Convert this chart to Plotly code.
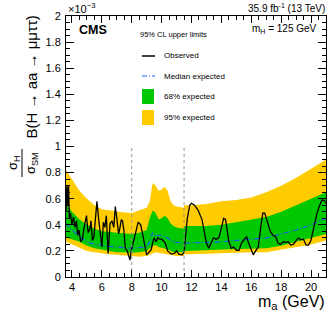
import plotly.graph_objects as go

# ---------------- data (units of 1e-3) ----------------
band_mass = [3.6, 4.0, 4.5, 5.0, 5.5, 6.0, 6.5, 7.0, 7.5, 8.0, 8.5, 9.0, 9.2, 9.4, 9.6, 9.8,
             10.0, 10.2, 10.4, 10.6, 10.8, 11.0, 11.5, 11.5, 12.0, 13.0, 14.0, 15.0, 16.0,
             17.0, 18.0, 19.0, 20.0, 21.0]
exp95_hi = [0.82, 0.75, 0.66, 0.60, 0.55, 0.52, 0.51, 0.50, 0.495, 0.49, 0.51, 0.53, 0.58, 0.72,
            0.70, 0.66, 0.67, 0.69, 0.66, 0.58, 0.55, 0.54, 0.53, 0.55, 0.55, 0.56, 0.58, 0.59,
            0.61, 0.65, 0.70, 0.76, 0.83, 0.90]
exp68_hi = [0.56, 0.50, 0.44, 0.40, 0.37, 0.35, 0.345, 0.34, 0.335, 0.33, 0.34, 0.36, 0.45, 0.51,
            0.49, 0.44, 0.45, 0.47, 0.45, 0.41, 0.39, 0.38, 0.37, 0.39, 0.39, 0.39, 0.40, 0.42,
            0.44, 0.46, 0.50, 0.55, 0.60, 0.65]
exp68_lo = [0.30, 0.29, 0.27, 0.24, 0.22, 0.21, 0.20, 0.19, 0.19, 0.185, 0.19, 0.20, 0.22, 0.24,
            0.245, 0.23, 0.225, 0.22, 0.21, 0.20, 0.19, 0.19, 0.19, 0.20, 0.20, 0.205, 0.21, 0.215,
            0.22, 0.22, 0.24, 0.27, 0.30, 0.33]
exp95_lo = [0.27, 0.25, 0.22, 0.20, 0.19, 0.18, 0.175, 0.17, 0.165, 0.155, 0.155, 0.16, 0.17, 0.185,
            0.19, 0.185, 0.18, 0.175, 0.17, 0.165, 0.16, 0.16, 0.16, 0.175, 0.175, 0.18, 0.18, 0.185,
            0.19, 0.19, 0.21, 0.23, 0.25, 0.28]
exp_median = [0.41, 0.36, 0.31, 0.27, 0.25, 0.24, 0.235, 0.23, 0.225, 0.22, 0.225, 0.23, 0.27, 0.34,
              0.31, 0.32, 0.32, 0.31, 0.30, 0.28, 0.27, 0.265, 0.26, 0.26, 0.26, 0.265, 0.27, 0.28,
              0.29, 0.30, 0.33, 0.36, 0.40, 0.45]

obs_mass = [3.6, 3.66, 3.72, 3.77, 3.82, 3.9, 4.0, 4.1, 4.2, 4.3, 4.38, 4.47, 4.58, 4.7, 4.8, 4.9,
            4.97, 5.08, 5.2, 5.27, 5.37, 5.47, 5.55, 5.67, 5.78, 5.9, 6.0, 6.1, 6.2, 6.3, 6.42,
            6.55, 6.68, 6.8, 6.9, 7.0, 7.12, 7.2, 7.3, 7.38, 7.47, 7.57, 7.7, 7.8, 7.88, 7.95,
            8.05, 8.15, 8.27, 8.43, 8.6, 8.75, 8.87, 9.0, 9.15, 9.3, 9.42, 9.5, 9.62, 9.75, 9.85,
            10.0, 10.1, 10.25, 10.4, 10.55, 10.65, 10.85, 11.0, 11.15, 11.37, 11.5, 11.6, 11.72,
            11.88, 12.0, 12.2, 12.45, 12.7, 12.86, 13.0, 13.15, 13.3, 13.47, 13.65, 13.83, 13.99,
            14.15, 14.28, 14.37, 14.5, 14.66, 14.82, 15.0, 15.18, 15.34, 15.5, 15.68, 15.79,
            15.95, 16.13, 16.29, 16.47, 16.63, 16.77, 16.9, 17.11, 17.27, 17.45, 17.63, 17.79,
            17.95, 18.13, 18.31, 18.47, 18.63, 18.81, 18.99, 19.15, 19.31, 19.49, 19.67, 19.83,
            19.99, 20.17, 20.4, 20.58, 20.73, 20.9, 21.0]
obs_limit = [0.50, 0.70, 0.55, 0.70, 0.45, 0.49, 0.40, 0.46, 0.38, 0.43, 0.32, 0.36, 0.27, 0.29,
             0.37, 0.44, 0.47, 0.34, 0.37, 0.43, 0.28, 0.31, 0.42, 0.58, 0.45, 0.31, 0.23, 0.42,
             0.38, 0.47, 0.18, 0.41, 0.43, 0.38, 0.54, 0.45, 0.33, 0.37, 0.44, 0.43, 0.36, 0.22,
             0.20, 0.16, 0.13, 0.19, 0.24, 0.29, 0.36, 0.42, 0.40, 0.31, 0.22, 0.17, 0.19, 0.21,
             0.27, 0.30, 0.27, 0.30, 0.29, 0.29, 0.28, 0.26, 0.20, 0.18, 0.175, 0.18, 0.20, 0.175,
             0.17, 0.19, 0.30, 0.45, 0.55, 0.565, 0.55, 0.51, 0.44, 0.33, 0.26, 0.22, 0.26, 0.30,
             0.29, 0.30, 0.37, 0.45, 0.44, 0.37, 0.27, 0.22, 0.23, 0.205, 0.205, 0.26, 0.28, 0.31,
             0.27, 0.22, 0.17, 0.20, 0.23, 0.38, 0.49, 0.49, 0.42, 0.35, 0.32, 0.31, 0.26, 0.25,
             0.27, 0.265, 0.27, 0.245, 0.25, 0.28, 0.30, 0.285, 0.29, 0.245, 0.245, 0.28, 0.38,
             0.49, 0.55, 0.59, 0.585, 0.565]

region_bounds = [8.0, 11.5]
bound_top = 1.0

x_ticks = [4, 6, 8, 10, 12, 14, 16, 18, 20]

# ---------------- styling ----------------
YELLOW = "rgb(255,204,0)"
GREEN = "rgb(0,200,0)"
BLUE = "rgb(30,90,255)"
DASHDOT = "5px,2px,1px,2px"
FONT = "Liberation Sans, Arial, Helvetica, sans-serif"

W, H = 332, 319
L, R, T, B = 66, 6, 16, 42
PW, PH = W - L - R, H - T - B


def px(x):
    return (x - L) / PW


def py(y):
    return (H - B - y) / PH


fig = go.Figure()

# 95% band
fig.add_trace(go.Scatter(x=band_mass, y=exp95_lo, mode="lines", line=dict(width=0),
                         hoverinfo="skip", showlegend=False))
fig.add_trace(go.Scatter(x=band_mass, y=exp95_hi, mode="lines", line=dict(width=0),
                         fill="tonexty", fillcolor=YELLOW, showlegend=False))
# 68% band
fig.add_trace(go.Scatter(x=band_mass, y=exp68_lo, mode="lines", line=dict(width=0),
                         hoverinfo="skip", showlegend=False))
fig.add_trace(go.Scatter(x=band_mass, y=exp68_hi, mode="lines", line=dict(width=0),
                         fill="tonexty", fillcolor=GREEN, showlegend=False))
# median expected
fig.add_trace(go.Scatter(x=band_mass, y=exp_median, mode="lines",
                         line=dict(color=BLUE, width=1.2, dash=DASHDOT), showlegend=False))
# observed
fig.add_trace(go.Scatter(x=obs_mass, y=obs_limit, mode="lines",
                         line=dict(color="black", width=1.3), showlegend=False))
# region boundaries
for b in region_bounds:
    fig.add_trace(go.Scatter(x=[b, b], y=[0, bound_top], mode="lines",
                             line=dict(color="rgb(150,150,150)", width=1, dash="dot"),
                             showlegend=False))

axis_common = dict(
    showline=True, linecolor="black", linewidth=1, mirror="allticks",
    ticks="inside", tickcolor="black", tickwidth=1,
    showgrid=False, zeroline=False,
    tickfont=dict(family=FONT, size=11, color="black"),
)
fig.update_xaxes(range=[3.6, 21], tickvals=x_ticks, ticklen=7,
                 minor=dict(dtick=0.5, tick0=0, ticks="inside", ticklen=4, tickcolor="black"),
                 **axis_common)
fig.update_yaxes(range=[0, 2.0], dtick=0.2, tick0=0, ticklen=8, ticklabelstandoff=2,
                 minor=dict(dtick=0.05, tick0=0, ticks="inside", ticklen=4, tickcolor="black"),
                 **axis_common)

ann = []


def text(x, y, s, size, xanchor="left", yanchor="middle", angle=0):
    ann.append(dict(x=px(x), y=py(y), xref="paper", yref="paper", text=s, showarrow=False,
                    xanchor=xanchor, yanchor=yanchor, textangle=angle,
                    font=dict(family=FONT, size=size, color="black")))


text(66, 8, "×10<sup>−3</sup>", 11)
text(327, 8, "35.9 fb<sup>-1</sup> (13 TeV)", 10, xanchor="right")
text(77, 30, "<b>CMS</b>", 12.5)
text(250, 29, "m<sub>H</sub> = 125 GeV", 10)
text(138, 34, "95% CL upper limits", 7.5)
text(162, 56, "Observed", 8)
text(162, 76, "Median expected", 8)
text(162, 96, "68% expected", 8)
text(162, 117, "95% expected", 8)
text(327, 302, "m<sub>a</sub> (GeV)", 16, xanchor="right")
# y title
text(31, 14, "B(H → aa → μμττ)", 15, xanchor="center", yanchor="top", angle=-90)
text(13, 163, "σ<sub>H</sub>", 13, xanchor="center", angle=-90)
text(31, 163, "σ<sub>SM</sub>", 13, xanchor="center", angle=-90)

shapes = [
    dict(type="line", xref="paper", yref="paper", x0=px(22), x1=px(22), y0=py(149), y1=py(177),
         line=dict(color="black", width=1)),
    dict(type="line", xref="paper", yref="paper", x0=px(142), x1=px(155), y0=py(56), y1=py(56),
         line=dict(color="black", width=1.5)),
    dict(type="line", xref="paper", yref="paper", x0=px(142), x1=px(155), y0=py(76), y1=py(76),
         line=dict(color=BLUE, width=1.2, dash=DASHDOT)),
    dict(type="rect", xref="paper", yref="paper", x0=px(142), x1=px(154), y0=py(104), y1=py(89),
         line=dict(width=0), fillcolor=GREEN),
    dict(type="rect", xref="paper", yref="paper", x0=px(142), x1=px(154), y0=py(125), y1=py(110),
         line=dict(width=0), fillcolor=YELLOW),
]

fig.update_layout(
    width=W, height=H,
    margin=dict(l=L, r=R, t=T, b=B),
    paper_bgcolor="white", plot_bgcolor="white",
    showlegend=False,
    annotations=ann, shapes=shapes,
    font=dict(family=FONT, color="black"),
)

fig.write_html("out.html", config={"displayModeBar": False},
               post_script="document.body.style.margin='0';")
